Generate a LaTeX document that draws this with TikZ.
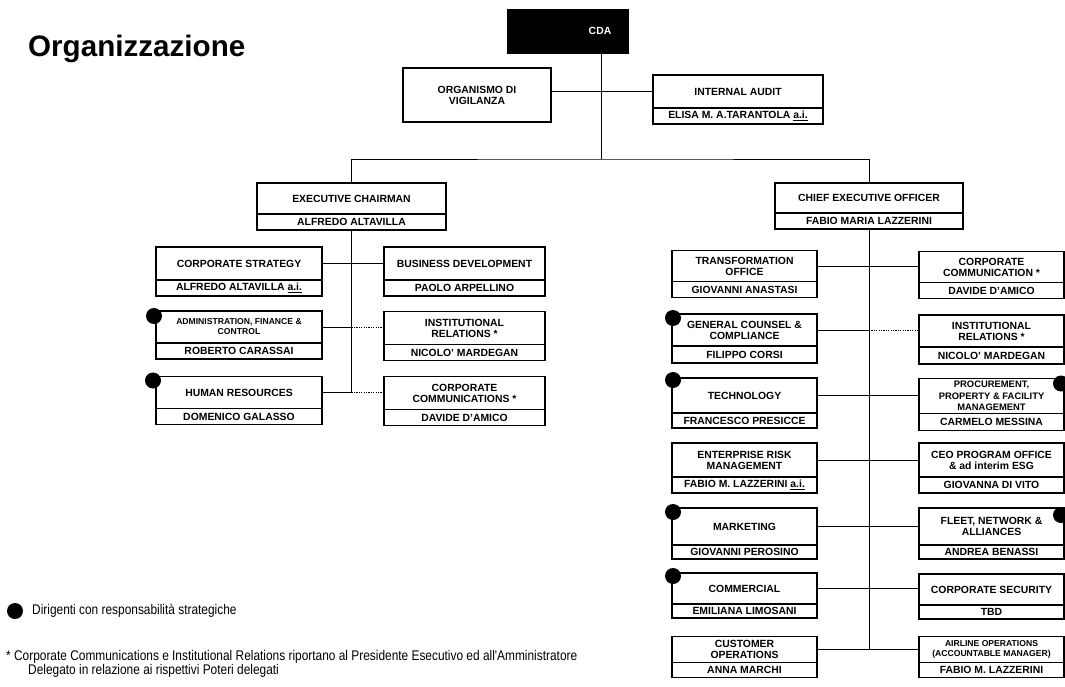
\documentclass[tikz,border=0pt]{standalone}
\usepackage{fontspec}
\setmainfont{Liberation Sans}
\newfontfamily\narrowfont[FakeStretch=0.85]{Liberation Sans}
\usetikzlibrary{positioning}

\begin{document}
\begin{tikzpicture}[
    x=1pt, y=-1pt,
    head/.style={draw, line width=1.1pt, fill=white, outer sep=0pt, inner sep=1pt, align=center, font=\bfseries\fontsize{10.4}{11}\selectfont},
    who/.style={head, minimum height=16pt},
    lhead/.style={head, minimum width=166pt, minimum height=33pt},
    lwho/.style={who, minimum width=166pt},
    mhead/.style={head, minimum width=161pt, minimum height=33pt},
    mwho/.style={who, minimum width=161pt},
    rhead/.style={head, minimum width=145pt},
    rwho/.style={who, minimum width=145pt},
    tight/.style={font=\bfseries\fontsize{8.6}{10}\selectfont},
    link/.style={line width=0.8pt},
    dotlink/.style={link, dash pattern=on 1.2pt off 1.2pt},
    keydot/.style={circle, fill=black, minimum size=16pt, inner sep=0pt},
    note/.style={font=\narrowfont\fontsize{14}{11.5}\selectfont, inner sep=0pt, align=left}
]
\fill[white] (0,0) rectangle (1065,687);
\useasboundingbox (0,0) rectangle (1065,687);

% Title
\node[font=\bfseries\fontsize{29.6}{32}\selectfont, inner sep=0pt, anchor=base west] (title) at (28,57) {Organizzazione};

% Board and control bodies
\node[draw, fill=black, minimum width=121pt, minimum height=44pt, outer sep=0pt] (cda) at (567.5,31) {};
\node[text=white, font=\bfseries\fontsize{10.4}{11}\selectfont] (cdaname) at (600,31) {CDA};
\node[head, minimum width=148pt, minimum height=54pt] (odv) at (477,95) {ORGANISMO DI\\VIGILANZA};
\node[head, minimum width=170pt, minimum height=33pt] (ia) at (738,91.5) {INTERNAL AUDIT};
\node[who, minimum width=170pt, below=0pt of ia] (ian) {ELISA M. A.TARANTOLA \underline{a.i.}};

% Top management
\node[head, minimum width=189pt, minimum height=31pt] (ec) at (351.5,198.5) {EXECUTIVE CHAIRMAN};
\node[who, minimum width=189pt, below=0pt of ec] (ecn) {ALFREDO ALTAVILLA};
\node[head, minimum width=188pt, minimum height=30pt] (ceo) at (869,198) {CHIEF EXECUTIVE OFFICER};
\node[who, minimum width=188pt, below=0pt of ceo] (ceon) {FABIO MARIA LAZZERINI};

% Executive chairman units
\node[lhead] (cs) at (239,263.5) {CORPORATE STRATEGY};
\node[lwho, below=0pt of cs] (csn) {ALFREDO ALTAVILLA \underline{a.i.}};
\node[mhead] (bd) at (464.5,263.5) {BUSINESS DEVELOPMENT};
\node[mwho, below=0pt of bd] (bdn) {PAOLO ARPELLINO};

\node[lhead, minimum height=32pt, tight] (afc) at (239,327) {ADMINISTRATION, FINANCE \&\\CONTROL};
\node[lwho, below=0pt of afc] (afcn) {ROBERTO CARASSAI};
\node[mhead] (irl) at (464.5,328) {INSTITUTIONAL\\RELATIONS *};
\node[mwho, below=0pt of irl] (irln) {NICOLO' MARDEGAN};

\node[lhead, minimum height=32pt] (hr) at (239,392.5) {HUMAN RESOURCES};
\node[lwho, below=0pt of hr] (hrn) {DOMENICO GALASSO};
\node[mhead] (ccl) at (464.5,393) {CORPORATE\\COMMUNICATIONS *};
\node[mwho, below=0pt of ccl] (ccln) {DAVIDE D'AMICO};

% CEO units
\node[rhead, minimum height=31pt] (tro) at (744.5,266) {TRANSFORMATION\\OFFICE};
\node[rwho, below=0pt of tro] (tron) {GIOVANNI ANASTASI};
\node[rhead, minimum height=31pt] (ccr) at (991.5,267) {CORPORATE\\COMMUNICATION *};
\node[rwho, below=0pt of ccr] (ccrn) {DAVIDE D'AMICO};

\node[rhead, minimum height=32pt] (gcc) at (744.5,330) {GENERAL COUNSEL \&\\COMPLIANCE};
\node[rwho, minimum height=17pt, below=0pt of gcc] (gccn) {FILIPPO CORSI};
\node[rhead, minimum height=32pt] (irr) at (991.5,331) {INSTITUTIONAL\\RELATIONS *};
\node[rwho, minimum height=17pt, below=0pt of irr] (irrn) {NICOLO' MARDEGAN};

\node[rhead, minimum height=35pt] (tec) at (744.5,395.5) {TECHNOLOGY};
\node[rwho, minimum height=15pt, below=0pt of tec] (tecn) {FRANCESCO PRESICCE};
\node[rhead, minimum height=35pt, font=\bfseries\fontsize{9.4}{11.5}\selectfont] (ppf) at (991.5,396) {PROCUREMENT,\\PROPERTY \& FACILITY\\MANAGEMENT};
\node[rwho, minimum height=17pt, below=0pt of ppf] (ppfn) {CARMELO MESSINA};

\node[rhead, minimum height=34pt] (erm) at (744.5,460) {ENTERPRISE RISK\\MANAGEMENT};
\node[rwho, below=0pt of erm] (ermn) {FABIO M. LAZZERINI \underline{a.i.}};
\node[rhead, minimum height=34pt] (cpo) at (991.5,460) {CEO PROGRAM OFFICE\\\& ad interim ESG};
\node[rwho, below=0pt of cpo] (cpon) {GIOVANNA DI VITO};

\node[rhead, minimum height=37pt] (mkt) at (744.5,526.5) {MARKETING};
\node[rwho, minimum height=14pt, below=0pt of mkt] (mktn) {GIOVANNI PEROSINO};
\node[rhead, minimum height=37pt] (fna) at (991.5,526.5) {FLEET, NETWORK \&\\ALLIANCES};
\node[rwho, minimum height=14pt, below=0pt of fna] (fnan) {ANDREA BENASSI};

\node[rhead, minimum height=31pt] (com) at (744.5,588.5) {COMMERCIAL};
\node[rwho, minimum height=14pt, below=0pt of com] (comn) {EMILIANA LIMOSANI};
\node[rhead, minimum height=31pt] (sec) at (991.5,589.5) {CORPORATE SECURITY};
\node[rwho, minimum height=14pt, below=0pt of sec] (secn) {TBD};

\node[rhead, minimum height=26pt] (cop) at (744.5,649.5) {CUSTOMER\\OPERATIONS};
\node[rwho, minimum height=15pt, below=0pt of cop] (copn) {ANNA MARCHI};
\node[rhead, minimum height=26pt, tight] (aop) at (991.5,649.5) {AIRLINE OPERATIONS\\(ACCOUNTABLE MANAGER)};
\node[rwho, minimum height=15pt, below=0pt of aop] (aopn) {FABIO M. LAZZERINI};

% Lines
\coordinate (split) at (601,159);
\draw[link] (cda.south -| split) -- (split);
\draw[link] (odv.east |- ia.west) -- (ia.west);
\draw[link] (ec.north) |- (split) -| (ceo.north);

\draw[link] (ecn.south) -- (ecn.south |- hr.east);
\draw[link] (cs.east) -- (bd.west);
\draw[link] (afc.east) -- (afc.east -| ecn.south);
\draw[dotlink] (afc.east -| ecn.south) -- (irl.west |- afc.east);
\draw[link] (hr.east) -- (hr.east -| ecn.south);
\draw[dotlink] (hr.east -| ecn.south) -- (ccl.west |- hr.east);

\draw[link] (ceon.south) -- (ceon.south |- cop.east);
\draw[link] (tro.east) -- (ccr.west |- tro.east);
\draw[link] (gcc.east) -- (gcc.east -| ceon.south);
\draw[dotlink] (gcc.east -| ceon.south) -- (irr.west |- gcc.east);
\draw[link] (tec.east) -- (ppf.west |- tec.east);
\draw[link] (erm.east) -- (cpo.west);
\draw[link] (mkt.east) -- (fna.west);
\draw[link] (com.east) -- (sec.west |- com.east);
\draw[link] (cop.east) -- (aop.west);

% Strategic managers
\node[keydot] (dafc) at ([shift={(-2,5)}]afc.north west) {};
\node[keydot] (dhr) at ([shift={(-3,4)}]hr.north west) {};
\node[keydot] (dgcc) at ([shift={(1,4)}]gcc.north west) {};
\node[keydot] (dtec) at ([shift={(1,2)}]tec.north west) {};
\node[keydot] (dmkt) at ([shift={(1,4)}]mkt.north west) {};
\node[keydot] (dcom) at ([shift={(1,3)}]com.north west) {};
\node[keydot] (dppf) at ([shift={(-3,5)}]ppf.north east) {};
\node[keydot] (dfna) at ([shift={(-3,7)}]fna.north east) {};

% Legend
\node[keydot] (keysym) at (15,611) {};
\node[note, anchor=west] (keytext) at (32,611) {Dirigenti con responsabilità strategiche};
\node[note, anchor=north west] (foot) at (6,650) {* Corporate Communications e Institutional Relations riportano al Presidente Esecutivo ed all'Amministratore\\\hspace*{22pt}Delegato in relazione ai rispettivi Poteri delegati};

\end{tikzpicture}
\end{document}
